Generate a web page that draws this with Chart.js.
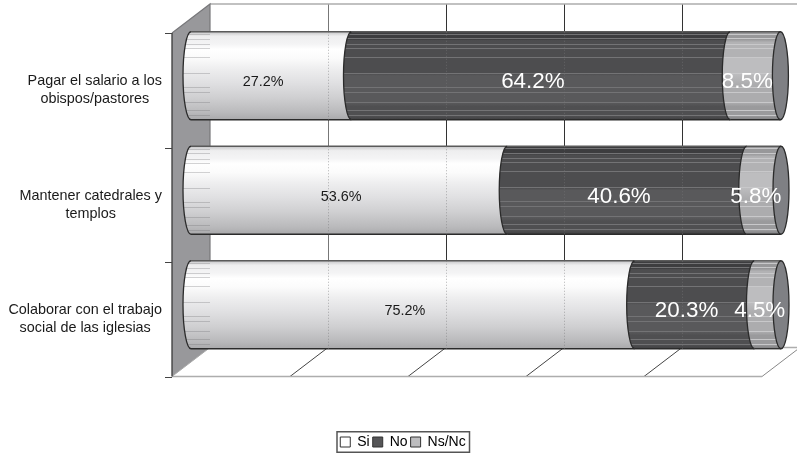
<!DOCTYPE html>
<html lang="es">
<head>
<meta charset="utf-8">
<title>Financiación de las iglesias</title>
<script src="https://cdn.jsdelivr.net/npm/chart.js@4/dist/chart.umd.min.js"></script>
<style>
  html, body { margin: 0; padding: 0; background: #fff; }
  canvas { display: block; }
</style>
</head>
<body>
<canvas id="chart" width="797" height="454"></canvas>
<script>
// Survey answers, top row first.
const categories = [
  ["Pagar el salario a los", "obispos/pastores"],
  ["Mantener catedrales y", "templos"],
  ["Colaborar con el trabajo", "social de las iglesias"]
];
const seriesNames = ["Si", "No", "Ns/Nc"];
const siValues = [27.2, 53.6, 75.2];
const noValues = [64.2, 40.6, 20.3];
const nsValues = [8.5, 5.8, 4.5];
const axisTicks = [0, 20, 40, 60, 80, 100];

// Appearance of the fake 3D box and the cylinders.
const FONT = "'Liberation Sans', Arial, sans-serif";
const DEPTH_X = 19, DEPTH_Y = 14.5, CAP_RX = 8, BAR_H = 88;
const legendSwatches = ["#ffffff", "#555557", "#bdbdbf"];
const gridColors = ["#777", "#333", "#333", "#333", "#777"];
const streaks = [0.03, 0.08, 0.14, 0.19, 0.29, 0.47, 0.63, 0.69, 0.8, 0.89, 0.95];
const shades = [
  { stops: [[0, "#c4c4c6"], [0.05, "#eeeeef"], [0.14, "#f4f4f5"], [0.2, "#ffffff"], [0.3, "#fbfbfb"], [0.42, "#eeeeef"], [0.58, "#e0e0e2"], [0.75, "#cfcfd1"], [0.92, "#b9b9bb"], [1, "#a9a9ab"]], streak: null },
  { stops: [[0, "#3d3d3f"], [0.1, "#4d4d4f"], [0.5, "#59595b"], [0.85, "#4f4f51"], [1, "#404042"]], streak: "#737375" },
  { stops: [[0, "#98989a"], [0.12, "#b2b2b4"], [0.3, "#bdbdbf"], [0.6, "#acacae"], [0.85, "#9a9a9c"], [1, "#7e7e80"]], streak: "#c8c8ca" }
];

// Vertical band across one cylinder; streaks are thin hard-edged stops.
function bandFill(ctx, shade, top, bottom) {
  const g = ctx.createLinearGradient(0, top, 0, bottom);
  const colourAt = f => {
    let i = 0;
    while (i < shade.stops.length - 2 && shade.stops[i + 1][0] <= f) i++;
    return shade.stops[i][1];
  };
  shade.stops.forEach(s => g.addColorStop(s[0], s[1]));
  if (shade.streak) {
    streaks.forEach(f => {
      const w = 0.006;
      g.addColorStop(f - w, colourAt(f));
      g.addColorStop(f - w, shade.streak);
      g.addColorStop(f + w, shade.streak);
      g.addColorStop(f + w, colourAt(f));
    });
  }
  return g;
}

function barFill(context) {
  const shade = shades[context.datasetIndex];
  if (context.dataIndex === undefined) return shade.stops[0][1];
  const cy = context.chart.scales.y.getPixelForValue(context.dataIndex);
  return bandFill(context.chart.ctx, shade, cy - BAR_H / 2, cy + BAR_H / 2);
}

// Back wall, side wall, floor and the category labels at the front edge.
const boxPlugin = {
  id: "box3d",
  beforeDatasetsDraw(chart) {
    const { ctx, scales: { x, y } } = chart;
    const wallFront = x.getPixelForValue(0) - DEPTH_X;
    const wallBack = x.getPixelForValue(0) + DEPTH_X;
    const frontTop = y.top + DEPTH_Y, frontBottom = y.bottom + DEPTH_Y;
    const backTop = y.top - DEPTH_Y, backBottom = y.bottom - DEPTH_Y;
    const W = chart.width;

    ctx.save();
    // side wall
    ctx.fillStyle = "#98989b";
    ctx.beginPath();
    ctx.moveTo(wallFront, frontTop);
    ctx.lineTo(wallBack, backTop);
    ctx.lineTo(wallBack, backBottom);
    ctx.lineTo(wallFront, frontBottom);
    ctx.closePath();
    ctx.fill();

    // vertical grid on the back wall
    ctx.lineWidth = 1;
    axisTicks.forEach((t, i) => {
      if (i === 0) return;
      const px = Math.round(x.getPixelForValue(t) + DEPTH_X) + 0.5;
      ctx.strokeStyle = gridColors[i - 1];
      ctx.beginPath();
      ctx.moveTo(px, backTop);
      ctx.lineTo(px, backBottom);
      ctx.stroke();
    });

    // floor diagonals
    axisTicks.forEach((t, i) => {
      const fx = x.getPixelForValue(t) - DEPTH_X, bx = x.getPixelForValue(t) + DEPTH_X;
      ctx.strokeStyle = i === 0 ? "#aaa" : (i === axisTicks.length - 1 ? "#888" : "#444");
      ctx.beginPath();
      ctx.moveTo(fx, frontBottom);
      ctx.lineTo(bx, backBottom);
      ctx.stroke();
    });

    // light frame lines
    ctx.strokeStyle = "#adadad";
    ctx.lineWidth = 1.5;
    ctx.beginPath();
    ctx.moveTo(wallBack, backTop); ctx.lineTo(W, backTop);
    ctx.moveTo(wallBack, backBottom); ctx.lineTo(W, backBottom);
    ctx.moveTo(wallFront, frontBottom); ctx.lineTo(x.getPixelForValue(100) - DEPTH_X, frontBottom);
    ctx.stroke();

    // wall edges
    ctx.strokeStyle = "#77777a";
    ctx.lineWidth = 1.2;
    ctx.beginPath();
    ctx.moveTo(wallFront, frontTop); ctx.lineTo(wallBack, backTop); ctx.lineTo(wallBack, backBottom);
    ctx.stroke();
    ctx.strokeStyle = "#3a3a3a";
    ctx.lineWidth = 1.3;
    ctx.beginPath();
    ctx.moveTo(wallFront, frontTop); ctx.lineTo(wallFront, frontBottom);
    ctx.stroke();

    // category tick marks and labels, aligned to the front of the box
    ctx.lineWidth = 1;
    ctx.strokeStyle = "#444";
    const band = (y.bottom - y.top) / categories.length;
    for (let i = 0; i <= categories.length; i++) {
      const ty = Math.round(frontTop + band * i) + 0.5;
      ctx.beginPath();
      ctx.moveTo(wallFront - 7, ty);
      ctx.lineTo(wallFront, ty);
      ctx.stroke();
    }
    ctx.font = "14.4px " + FONT;
    ctx.fillStyle = "#1a1a1a";
    ctx.textAlign = "center";
    ctx.textBaseline = "middle";
    categories.forEach((lines, i) => {
      const cy = y.getPixelForValue(i) + DEPTH_Y;
      const block = Math.max(...lines.map(l => ctx.measureText(l).width));
      const cx = wallFront - 10 - block / 2;
      lines.forEach((l, k) => ctx.fillText(l, cx, cy + (k - 0.5) * 18));
    });
    ctx.restore();
  },

  afterDatasetsDraw(chart) {
    const { ctx, scales: { x } } = chart;
    ctx.save();
    const wallBack = x.getPixelForValue(0) + DEPTH_X;
    chart.data.datasets.forEach((ds, di) => {
      const meta = chart.getDatasetMeta(di);
      meta.data.forEach(bar => {
        const { x: end, y: cy, base } = bar.getProps(["x", "y", "base"], true);
        const top = cy - BAR_H / 2, bottom = cy + BAR_H / 2;

        // rounded left side of the segment, laid over its neighbour;
        // it runs a little under the bar so no seam shows between them
        ctx.fillStyle = bandFill(ctx, shades[di], top, bottom);
        ctx.beginPath();
        ctx.ellipse(base, cy, CAP_RX, BAR_H / 2, 0, Math.PI / 2, Math.PI * 1.5);
        ctx.lineTo(base + 2, top);
        ctx.lineTo(base + 2, bottom);
        ctx.closePath();
        ctx.fill();

        // streaks on the part of the first segment seen against the wall
        if (di === 0) {
          ctx.save();
          ctx.beginPath();
          ctx.ellipse(base, cy, CAP_RX, BAR_H / 2, 0, Math.PI / 2, Math.PI * 1.5);
          ctx.lineTo(wallBack, top);
          ctx.lineTo(wallBack, bottom);
          ctx.closePath();
          ctx.clip();
          ctx.strokeStyle = "rgba(110,110,112,0.3)";
          ctx.lineWidth = 1;
          streaks.forEach(f => {
            const sy = Math.round(top + f * BAR_H) + 0.5;
            ctx.beginPath();
            ctx.moveTo(base - CAP_RX, sy);
            ctx.lineTo(wallBack, sy);
            ctx.stroke();
          });
          ctx.restore();
        }

        // outline
        ctx.strokeStyle = "#2b2b2b";
        ctx.lineWidth = 1.3;
        ctx.beginPath();
        ctx.ellipse(base, cy, CAP_RX, BAR_H / 2, 0, Math.PI / 2, Math.PI * 1.5);
        ctx.stroke();
        ctx.strokeStyle = "#5a5a5a";
        ctx.beginPath();
        ctx.moveTo(base, top); ctx.lineTo(end, top);
        ctx.stroke();
        ctx.strokeStyle = "#2b2b2b";
        ctx.beginPath();
        ctx.moveTo(base, bottom); ctx.lineTo(end, bottom);
        ctx.stroke();

        // closed end of the cylinder
        if (di === chart.data.datasets.length - 1) {
          ctx.fillStyle = "#7f8084";
          ctx.beginPath();
          ctx.ellipse(end, cy, CAP_RX, BAR_H / 2, 0, 0, Math.PI * 2);
          ctx.fill();
          ctx.strokeStyle = "#2b2b2b";
          ctx.stroke();
        }
      });
    });

    // grid showing faintly through the bars
    ctx.strokeStyle = "rgba(120,120,122,0.55)";
    ctx.lineWidth = 1;
    ctx.setLineDash([1, 2]);
    const meta0 = chart.getDatasetMeta(0).data;
    axisTicks.slice(1).forEach(t => {
      const px = Math.round(x.getPixelForValue(t) + DEPTH_X) + 0.5;
      meta0.forEach(bar => {
        ctx.beginPath();
        ctx.moveTo(px, bar.y - BAR_H / 2);
        ctx.lineTo(px, bar.y + BAR_H / 2);
        ctx.stroke();
      });
    });
    ctx.setLineDash([]);

    // value labels
    ctx.textAlign = "center";
    ctx.textBaseline = "middle";
    chart.data.datasets.forEach((ds, di) => {
      chart.getDatasetMeta(di).data.forEach((bar, i) => {
        const { x: end, y: cy, base } = bar.getProps(["x", "y", "base"], true);
        ctx.font = (di === 0 ? "14.4px " : "22.4px ") + FONT;
        ctx.fillStyle = di === 0 ? "#1a1a1a" : "#ffffff";
        ctx.fillText(ds.data[i].toFixed(1) + "%", (base + end) / 2 - CAP_RX, cy + 6.5);
      });
    });
    ctx.restore();
  },

  afterLayout(chart) {
    // the legend sits in its own strip well below the floor
    const lg = chart.legend;
    const w = lg.right - lg.left, h = lg.bottom - lg.top;
    lg.left = 403 - w / 2; lg.right = lg.left + w;
    lg.top = 432; lg.bottom = lg.top + h;
  },

  afterDraw(chart) {
    const { ctx } = chart;
    ctx.save();
    ctx.strokeStyle = "#555";
    ctx.lineWidth = 1.5;
    ctx.strokeRect(337, 431.75, 132.5, 20.5);
    ctx.restore();
  }
};

new Chart(document.getElementById("chart"), {
  type: "bar",
  data: {
    labels: categories,
    datasets: [
      { label: seriesNames[0], data: siValues, backgroundColor: barFill, borderWidth: 0, barThickness: BAR_H },
      { label: seriesNames[1], data: noValues, backgroundColor: barFill, borderWidth: 0, barThickness: BAR_H },
      { label: seriesNames[2], data: nsValues, backgroundColor: barFill, borderWidth: 0, barThickness: BAR_H }
    ]
  },
  options: {
    indexAxis: "y",
    responsive: false,
    animation: false,
    layout: { padding: { left: 191, right: 16, top: 18.5, bottom: 65 } },
    scales: {
      x: { stacked: true, min: 0, max: 100, display: false },
      y: { stacked: true, display: false }
    },
    plugins: {
      colors: { enabled: false },
      tooltip: { enabled: false },
      legend: {
        position: "bottom",
        labels: {
          boxWidth: 10,
          boxHeight: 10,
          padding: 3,
          color: "#1a1a1a",
          font: { family: FONT, size: 14 },
          generateLabels: () => seriesNames.map((name, i) => ({
            text: name,
            fillStyle: legendSwatches[i],
            strokeStyle: "#333",
            lineWidth: 1,
            hidden: false,
            datasetIndex: i
          }))
        }
      }
    }
  },
  plugins: [boxPlugin]
});
</script>
</body>
</html>
